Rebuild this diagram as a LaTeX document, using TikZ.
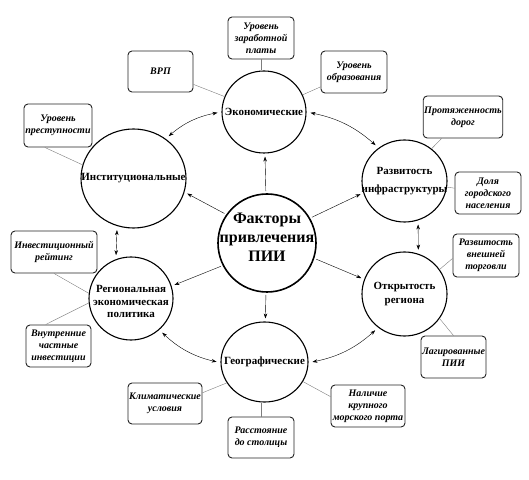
\documentclass[tikz,border=0pt]{standalone}
\usepackage{fontspec}
\setmainfont{LiberationSerif}[Extension=.ttf, UprightFont=*-Regular, BoldFont=*-Bold,
  ItalicFont=*-Italic, BoldItalicFont=*-BoldItalic]
\usetikzlibrary{positioning,arrows.meta,shapes.geometric}
\definecolor{inkgrey}{RGB}{35,35,35}
\definecolor{linkgrey}{RGB}{125,125,125}
\tikzset{
  hub/.style   ={circle, draw=black, line width=1.6pt, minimum size=98pt, inner sep=0pt},
  hubtxt/.style={align=center, font=\fontsize{16}{19}\selectfont\bfseries, inner sep=0pt},
  fac/.style   ={ellipse, draw=black, line width=1.1pt, inner sep=0pt},
  factxt/.style={align=center, inner sep=0pt, font=\fontsize{11}{12.5}\selectfont\bfseries},
  ind/.style   ={draw=inkgrey, line width=0.9pt, rounded corners=4pt, align=center,
                 font=\fontsize{10}{12}\selectfont\bfseries\itshape, inner sep=1pt},
  ar/.style    ={-{Stealth[length=5pt,width=3.5pt]}, thin, shorten <=2pt, shorten >=3pt},
  dar/.style   ={{Stealth[length=5pt,width=3.5pt]}-{Stealth[length=5pt,width=3.5pt]}, thin,
                 shorten <=4pt, shorten >=4pt},
  lnk/.style   ={draw=linkgrey, thin},
}

\begin{document}
\begin{tikzpicture}[x=1pt,y=1pt]
\useasboundingbox (0,0) rectangle (529,479);

% centre
\node[hub] (hub) at (267,236) {};
\node[hubtxt] (hubtxt) at (267,242) {Факторы\\привлечения\\ПИИ};

% factors
\node[fac, minimum width=84pt, minimum height=82pt]  (eco)   at (264,367)     {};
\node[fac, minimum width=105pt, minimum height=99pt] (inst)  at (133.5,300.5) {};
\node[fac, minimum width=85pt, minimum height=82pt]  (infra) at (404.5,298)   {};
\node[fac, minimum width=85pt, minimum height=84pt]  (open)  at (404.5,185)   {};
\node[fac, minimum width=84pt, minimum height=83pt]  (reg)   at (131,180.5)   {};
\node[fac, minimum width=87pt, minimum height=80pt]  (geo)   at (264.5,117)   {};
\node[factxt] (ecotxt)   at (eco)   {Экономические};
\node[factxt] (insttxt)  at (inst)  {Институциональные};
\node[factxt] (infratxt) at (infra) {Развитость\\[6pt]инфраструктуры};
\node[factxt] (opentxt)  at (open)  {Открытость\\[2pt]региона};
\node[factxt] (regtxt)   at ([yshift=-3pt]reg.center) {Региональная\\экономическая\\политика};
\node[factxt] (geotxt)   at (geo)   {Географические};

% indicators
\node[ind, minimum width=65pt, minimum height=41pt] (vrp)   at (160.5,407.5) {ВРП};
\node[ind, minimum width=66pt, minimum height=42pt] (wage)  at (261,441)   {Уровень\\заработной\\платы};
\node[ind, minimum width=66pt, minimum height=42pt] (edu)   at (354,407)   {Уровень\\образования};
\node[ind, minimum width=68pt, minimum height=43pt] (crime) at (58,353.5)  {Уровень\\преступности};
\node[ind, minimum width=78pt, minimum height=42pt] (roads) at (463,362)   {Протяженность\\дорог};
\node[ind, minimum width=66pt, minimum height=42pt] (urban) at (488,286)   {Доля\\городского\\населения};
\node[ind, minimum width=66pt, minimum height=43pt] (trade) at (486,223.5) {Развитость\\внешней\\торговли};
\node[ind, minimum width=65pt, minimum height=42pt] (lag)   at (453.5,122) {Лагированные\\ПИИ};
\node[ind, minimum width=74pt, minimum height=42pt] (port)  at (368,73)    {Наличие\\крупного\\морского порта};
\node[ind, minimum width=66pt, minimum height=41pt] (dist)  at (261,41.5)  {Расстояние\\до столицы};
\node[ind, minimum width=74pt, minimum height=41pt] (clim)  at (165,75.5)  {Климатические\\условия};
\node[ind, minimum width=65pt, minimum height=42pt] (priv)  at (58.5,133)  {Внутренние\\частные\\инвестиции};
\node[ind, minimum width=86pt, minimum height=42pt] (rate)  at (54,227)    {Инвестиционный\\рейтинг};

% links
\draw[lnk] (vrp) -- (eco);
\draw[lnk] (wage.south) -- (wage.south |- eco.north);
\draw[lnk] (edu) -- (eco);
\draw[lnk] (crime.-121) -- (inst.165);
\draw[lnk] (roads.225) -- (infra.50);
\draw[lnk] (urban) -- (infra);
\draw[lnk] (trade.185) -- (open.35);
\draw[lnk] (lag.north) -- (open.-35);
\draw[lnk] (port.166) -- (geo.-27);
\draw[lnk] (dist.north) -- (dist.north |- geo.south);
\draw[lnk] (clim.16) -- (geo.209);
\draw[lnk] (priv.121) -- (reg.186);
\draw[lnk] (rate.south) -- (reg.173);

% arrows from the centre
\draw[ar] (hub) -- (eco);
\draw[ar] (hub.145) -- (inst.-15);
\draw[ar] (hub.30) -- (infra.196);
\draw[ar] (hub.-18) -- (open.160);
\draw[ar] (hub.207) -- (reg.17);
\draw[ar] (hub) -- (geo);

% arrows between factors
\draw[dar] (eco.0) to[bend left=15] (infra.128);
\draw[dar] (eco.180) to[bend right=15] (inst.51);
\draw[dar] (inst.-109) -- (reg.111);
\draw[dar] (infra.-71) -- (open.71);
\draw[dar] (reg.-48) to[bend right=15] (geo.181);
\draw[dar] (geo.-1) to[bend right=15] (open.232);
\end{tikzpicture}
\end{document}
